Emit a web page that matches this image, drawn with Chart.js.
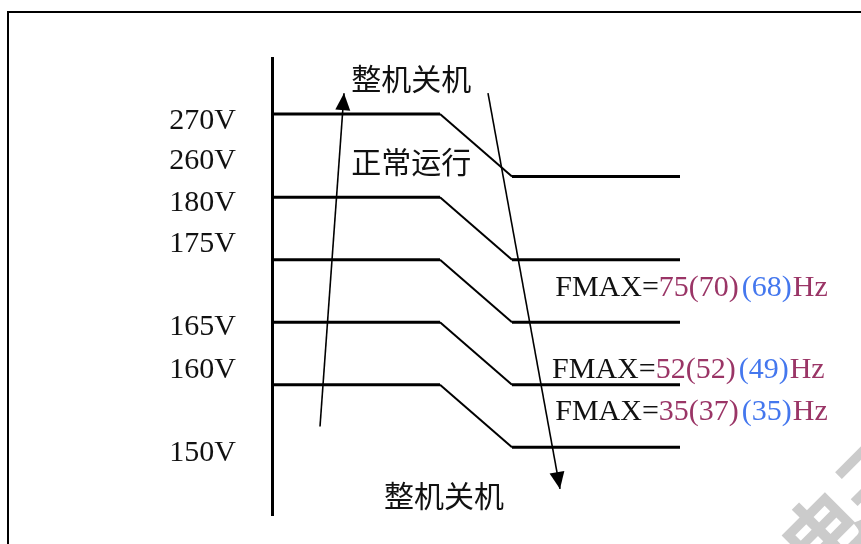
<!DOCTYPE html>
<html>
<head>
<meta charset="utf-8">
<script src="https://cdn.jsdelivr.net/npm/chart.js@4.4.1/dist/chart.umd.min.js"></script>
<style>
  html, body { margin: 0; padding: 0; background: #fff; overflow: hidden; }
  #wrap { position: relative; width: 861px; height: 544px; }
  #frame { position: absolute; left: 7px; top: 11px; width: 900px; height: 600px;
           border-top: 2px solid #000; border-left: 2px solid #000; }
  #chart { position: absolute; left: 0; top: 0; }
</style>
</head>
<body>
<div id="wrap">
  <div id="frame"></div>
  <canvas id="chart" width="861" height="544"></canvas>
</div>
<script>
// x stops of every step line: flat, bend start, bend end, end
const stepX = [0, 7, 10, 17];
// level of each step before and after the bend
const stepLeft = [16, 12, 9, 6, 3];
const stepRight = [13, 9, 6, 3, 0];

// voltage labels on the axis and where they sit
const voltLabels = ['270V', '260V', '180V', '175V', '165V', '160V', '150V'];
const voltLevels = [15.65, 13.75, 11.7, 9.75, 5.75, 3.7, -0.3];

// arrows: [start, end]
const upArrow = [{ x: 2, y: 1 }, { x: 3, y: 17 }];
const downArrow = [{ x: 9, y: 17 }, { x: 12, y: -2 }];

// state notes
const noteTexts = ['整机关机', '正常运行', '整机关机'];
const noteX = [5.8, 5.8, 7.17];
const noteY = [17.7, 13.7, -2.3];

// FMAX notes
const fmaxMain = ['75', '52', '35'];
const fmaxAlt = ['(70)', '(52)', '(37)'];
const fmaxThird = ['(68)', '(49)', '(35)'];
const fmaxX = [11.8, 11.67, 11.8];
const fmaxY = [7.65, 3.7, 1.7];

const serif = "'Liberation Serif', 'DejaVu Serif', serif";
const purple = '#9a3566';
const blue = '#4477ee';

const stepSets = stepLeft.map((l, i) => ({
    data: [
        { x: stepX[0], y: l },
        { x: stepX[1], y: l },
        { x: stepX[2], y: stepRight[i] },
        { x: stepX[3], y: stepRight[i] }
    ],
    borderColor: '#000',
    borderWidth: 3,
    pointRadius: 0,
    tension: 0,
    segment: { borderWidth: (ctx) => ctx.p0DataIndex === 1 ? 2 : 3 }
}));

const arrowSets = [upArrow, downArrow].map((a) => ({
    data: a,
    borderColor: '#000',
    borderWidth: 1.6,
    pointRadius: 0,
    arrow: true
}));

const notesPlugin = {
    id: 'notes',
    beforeDraw(chart) {
        // faint watermark in the corner
        const c = chart.ctx;
        c.save();
        c.translate(822, 532);
        c.rotate(-Math.PI / 4);
        c.fillStyle = '#cbcbcb';
        c.font = "bold 80px 'Noto Sans CJK SC'";
        c.textAlign = 'left';
        c.textBaseline = 'middle';
        c.fillText('电子', -40, 0);
        c.restore();
    },
    afterDatasetsDraw(chart) {
        const c = chart.ctx;
        const sx = chart.scales.x, sy = chart.scales.y;
        c.save();

        // arrow heads
        chart.data.datasets.forEach((ds, i) => {
            if (!ds.arrow) return;
            const pts = chart.getDatasetMeta(i).data;
            const p0 = pts[0], p1 = pts[pts.length - 1];
            const ang = Math.atan2(p1.y - p0.y, p1.x - p0.x);
            const len = 17, half = 7.5;
            c.fillStyle = '#000';
            c.beginPath();
            c.moveTo(p1.x, p1.y);
            c.lineTo(p1.x - len * Math.cos(ang) + half * Math.sin(ang), p1.y - len * Math.sin(ang) - half * Math.cos(ang));
            c.lineTo(p1.x - len * Math.cos(ang) - half * Math.sin(ang), p1.y - len * Math.sin(ang) + half * Math.cos(ang));
            c.closePath();
            c.fill();
        });

        // state notes
        c.font = "30px 'Noto Sans CJK SC'";
        c.fillStyle = '#111';
        c.textAlign = 'center';
        c.textBaseline = 'middle';
        noteTexts.forEach((t, i) => {
            c.fillText(t, sx.getPixelForValue(noteX[i]), sy.getPixelForValue(noteY[i]));
        });

        // FMAX notes
        c.font = '30px ' + serif;
        c.textAlign = 'left';
        fmaxMain.forEach((m, i) => {
            let x = sx.getPixelForValue(fmaxX[i]);
            const y = sy.getPixelForValue(fmaxY[i]);
            const parts = [
                ['FMAX=', '#111', 0],
                [m, purple, 0],
                [fmaxAlt[i], purple, 3],
                [fmaxThird[i], blue, 1],
                ['Hz', purple, 0]
            ];
            parts.forEach(([txt, col, gap]) => {
                c.fillStyle = col;
                c.fillText(txt, x, y);
                x += c.measureText(txt).width + gap;
            });
        });
        c.restore();
    }
};

new Chart(document.getElementById('chart'), {
    type: 'line',
    data: { datasets: stepSets.concat(arrowSets) },
    options: {
        responsive: false,
        animation: false,
        devicePixelRatio: 1,
        layout: { padding: { left: 0, right: 181, top: 58, bottom: 29 } },
        plugins: { legend: { display: false }, tooltip: { enabled: false } },
        scales: {
            x: { type: 'linear', display: false, min: 0, max: 17 },
            y: {
                type: 'linear',
                min: -3.25,
                max: 18.69,
                grid: { display: false, drawTicks: false },
                border: { display: true, color: '#000', width: 3 },
                afterBuildTicks: (scale) => { scale.ticks = voltLevels.map((v) => ({ value: v })); },
                afterFit: (scale) => {
                    scale.width = 272;
                    scale.paddingTop = 0;
                    scale.paddingBottom = 0;
                },
                ticks: {
                    autoSkip: false,
                    padding: 36,
                    color: '#111',
                    font: { family: serif, size: 30 },
                    callback: (v, i) => voltLabels[i]
                }
            }
        }
    },
    plugins: [notesPlugin]
});
</script>
</body>
</html>
